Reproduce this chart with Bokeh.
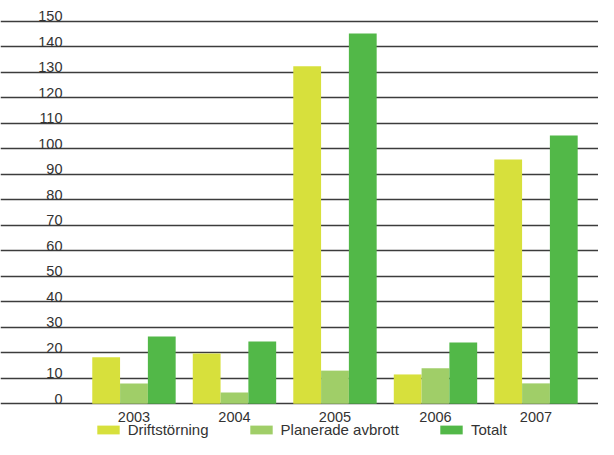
import numpy as np
from bokeh.plotting import figure
from bokeh.models import (ColumnDataSource, Range1d, FixedTicker, LabelSet,
                          Legend, LegendItem, Grid)
from bokeh.transform import dodge
from bokeh.core.properties import value
from bokeh.embed import file_html
from bokeh.resources import INLINE

# ---- data ----
years = ["2003", "2004", "2005", "2006", "2007"]
driftstorning = [18.2, 19.7, 132.3, 11.5, 95.8]
planerade_avbrott = [8.0, 4.4, 13.0, 13.9, 8.0]
totalt = [26.4, 24.4, 145.2, 24.0, 105.2]
y_ticks = list(range(0, 151, 10))
y_tick_labels = [str(t) for t in y_ticks]
series_names = ["Driftstörning", "Planerade avbrott", "Totalt"]
colors = ["#d7e03c", "#a0ce68", "#52b848"]

FONT = "Liberation Sans"
TEXT_COLOR = "#333333"
FS = "14.5px"

src = ColumnDataSource(dict(
    x=list(range(len(years))),
    year=years,
    drift=driftstorning,
    plan=planerade_avbrott,
    tot=totalt,
))

p = figure(width=598, height=439,
           x_range=Range1d(-1.328, 4.622), y_range=Range1d(-14.0, 158.1),
           x_axis_location=None, y_axis_location=None,
           output_backend="svg", toolbar_location=None)
p.min_border = 0
p.min_border_left = 0
p.min_border_right = 0
p.min_border_top = 0
p.min_border_bottom = 0
p.outline_line_color = None
p.grid.visible = False
p.background_fill_color = "white"
p.border_fill_color = "white"

grid = Grid(dimension=1, ticker=FixedTicker(ticks=y_ticks),
            grid_line_color="#3c3c3c", grid_line_width=1.3)
p.add_layout(grid, "center")

bw = 0.2766
fields = ["drift", "plan", "tot"]
offsets = [-bw, 0.0, bw]
renderers = []
for f, off, c in zip(fields, offsets, colors):
    r = p.vbar(x=dodge("x", off, range=p.x_range), top=f, bottom=0, width=bw,
               source=src, fill_color=c, line_color=None)
    renderers.append(r)

# year labels under the bars
p.text(x="x", y=0, text="year", source=src, text_align="center",
       text_baseline="middle", y_offset=13.6,
       text_font=value(FONT), text_font_size=FS, text_color=TEXT_COLOR)

# value labels sitting above each grid line
ysrc = ColumnDataSource(dict(v=y_ticks, lab=y_tick_labels))
labels = LabelSet(source=ysrc, x=62, x_units="screen", y="v", text="lab",
                  text_align="right", text_baseline="bottom",
                  text_font=value(FONT), text_font_size=value(FS),
                  text_color=value(TEXT_COLOR))
p.add_layout(labels)

legend = Legend(items=[LegendItem(label=n, renderers=[r]) for n, r in zip(series_names, renderers)],
                orientation="horizontal", location=(93.7, 1),
                glyph_width=28, glyph_height=11, label_standoff=6, spacing=38,
                padding=0, margin=0, border_line_color=None,
                background_fill_alpha=0, label_height=14,
                label_text_font=FONT, label_text_font_size="15px",
                label_text_color=TEXT_COLOR)
p.add_layout(legend)

open("out.html", "w").write(file_html(p, INLINE))
